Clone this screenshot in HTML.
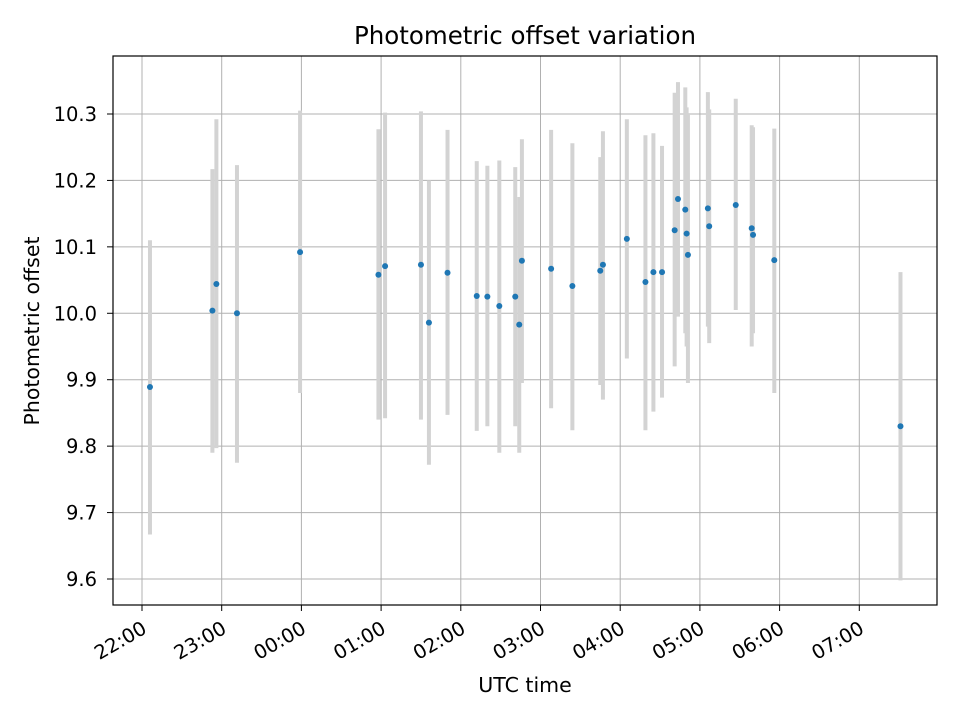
<!DOCTYPE html>
<html><head><meta charset="utf-8"><style>
body{margin:0;background:#fff;}
svg text{font-family:"DejaVu Sans","Liberation Sans",sans-serif;fill:#000;}
</style></head><body>
<svg id="chart" width="960" height="720" viewBox="0 0 960 720">
<rect width="960" height="720" fill="#fff"/>
<g id="grid"></g>
<g id="errs"></g>
<g id="pts"></g>
<rect x="113" y="56" width="824" height="549" fill="none" stroke="#000" stroke-width="1.2"/>
<g id="ticks"></g>
<text x="525" y="44" font-size="24.5" text-anchor="middle">Photometric offset variation</text>
<text x="525" y="692" font-size="20.5" text-anchor="middle">UTC time</text>
<text transform="translate(39,331) rotate(-90)" font-size="20.5" text-anchor="middle">Photometric offset</text>
</svg>
<script>
// minutes since 22:00
const times=[6,53,56,71.5,119,178,183,210,216,230,252,260,269,281,284,286,308,324,345,347,365,379,385,391.5,401,403.5,409,410,411,426,427,447,459,460,476,571];
const offsets=[9.889,10.004,10.044,10.0,10.092,10.058,10.071,10.073,9.986,10.061,10.026,10.025,10.011,10.025,9.983,10.079,10.067,10.041,10.064,10.073,10.112,10.047,10.062,10.062,10.125,10.172,10.156,10.12,10.088,10.158,10.131,10.163,10.128,10.118,10.08,9.83];
const errLow=[9.667,9.79,9.797,9.775,9.88,9.84,9.842,9.84,9.772,9.847,9.823,9.83,9.79,9.83,9.79,9.895,9.857,9.824,9.892,9.87,9.932,9.824,9.852,9.873,9.92,9.995,9.97,9.95,9.895,9.98,9.955,10.005,9.95,9.97,9.88,9.598];
const errHigh=[10.11,10.217,10.292,10.223,10.305,10.277,10.302,10.304,10.2,10.276,10.229,10.222,10.23,10.22,10.175,10.262,10.276,10.256,10.235,10.274,10.292,10.268,10.271,10.252,10.332,10.348,10.34,10.31,10.3,10.333,10.307,10.323,10.283,10.28,10.278,10.062];
const yTicks=[9.6,9.7,9.8,9.9,10.0,10.1,10.2,10.3];
const xTickLabels=["22:00","23:00","00:00","01:00","02:00","03:00","04:00","05:00","06:00","07:00"];
const NS="http://www.w3.org/2000/svg";
const xs=m=>142+m*79.7/60;
const ys=v=>579-(v-9.6)*664.3;
function mk(tag,parent,attrs){const e=document.createElementNS(NS,tag);for(const k in attrs)e.setAttribute(k,attrs[k]);document.getElementById(parent).appendChild(e);return e;}
yTicks.forEach((v,i)=>{
  const y=ys(v);
  const g=mk('line','grid',{x1:113,x2:937,y1:y,y2:y,stroke:'#b0b0b0','stroke-width':1});
  
  
  const t=mk('line','ticks',{x1:107,x2:113,y1:y,y2:y,stroke:'#000','stroke-width':1});
  
  
  const l=mk('text','ticks',{x:97,y:y+7,'font-size':19.5,'text-anchor':'end'});
  l.textContent=v.toFixed(1);
  
  
});
xTickLabels.forEach((s,i)=>{
  const x=xs(i*60);
  const g=mk('line','grid',{x1:x,x2:x,y1:56,y2:605,stroke:'#b0b0b0','stroke-width':1});
  
  
  const t=mk('line','ticks',{x1:x,x2:x,y1:605,y2:611,stroke:'#000','stroke-width':1});
  
  
  const l=mk('text','ticks',{transform:`translate(${x-1},${620}) rotate(-30)`,'font-size':19.5,'text-anchor':'end',dy:'0.72em'});
  l.textContent=s;
  
  
});
times.forEach((m,i)=>{
  const x=xs(m);
  const e=mk('line','errs',{x1:x,x2:x,y1:ys(errLow[i]),y2:ys(errHigh[i]),stroke:'#d3d3d3','stroke-width':4});
  
  
});
times.forEach((m,i)=>{
  const p=mk('circle','pts',{cx:xs(m),cy:ys(offsets[i]),r:3,fill:'#1f77b4'});
  
  
});
</script>
</body></html>
